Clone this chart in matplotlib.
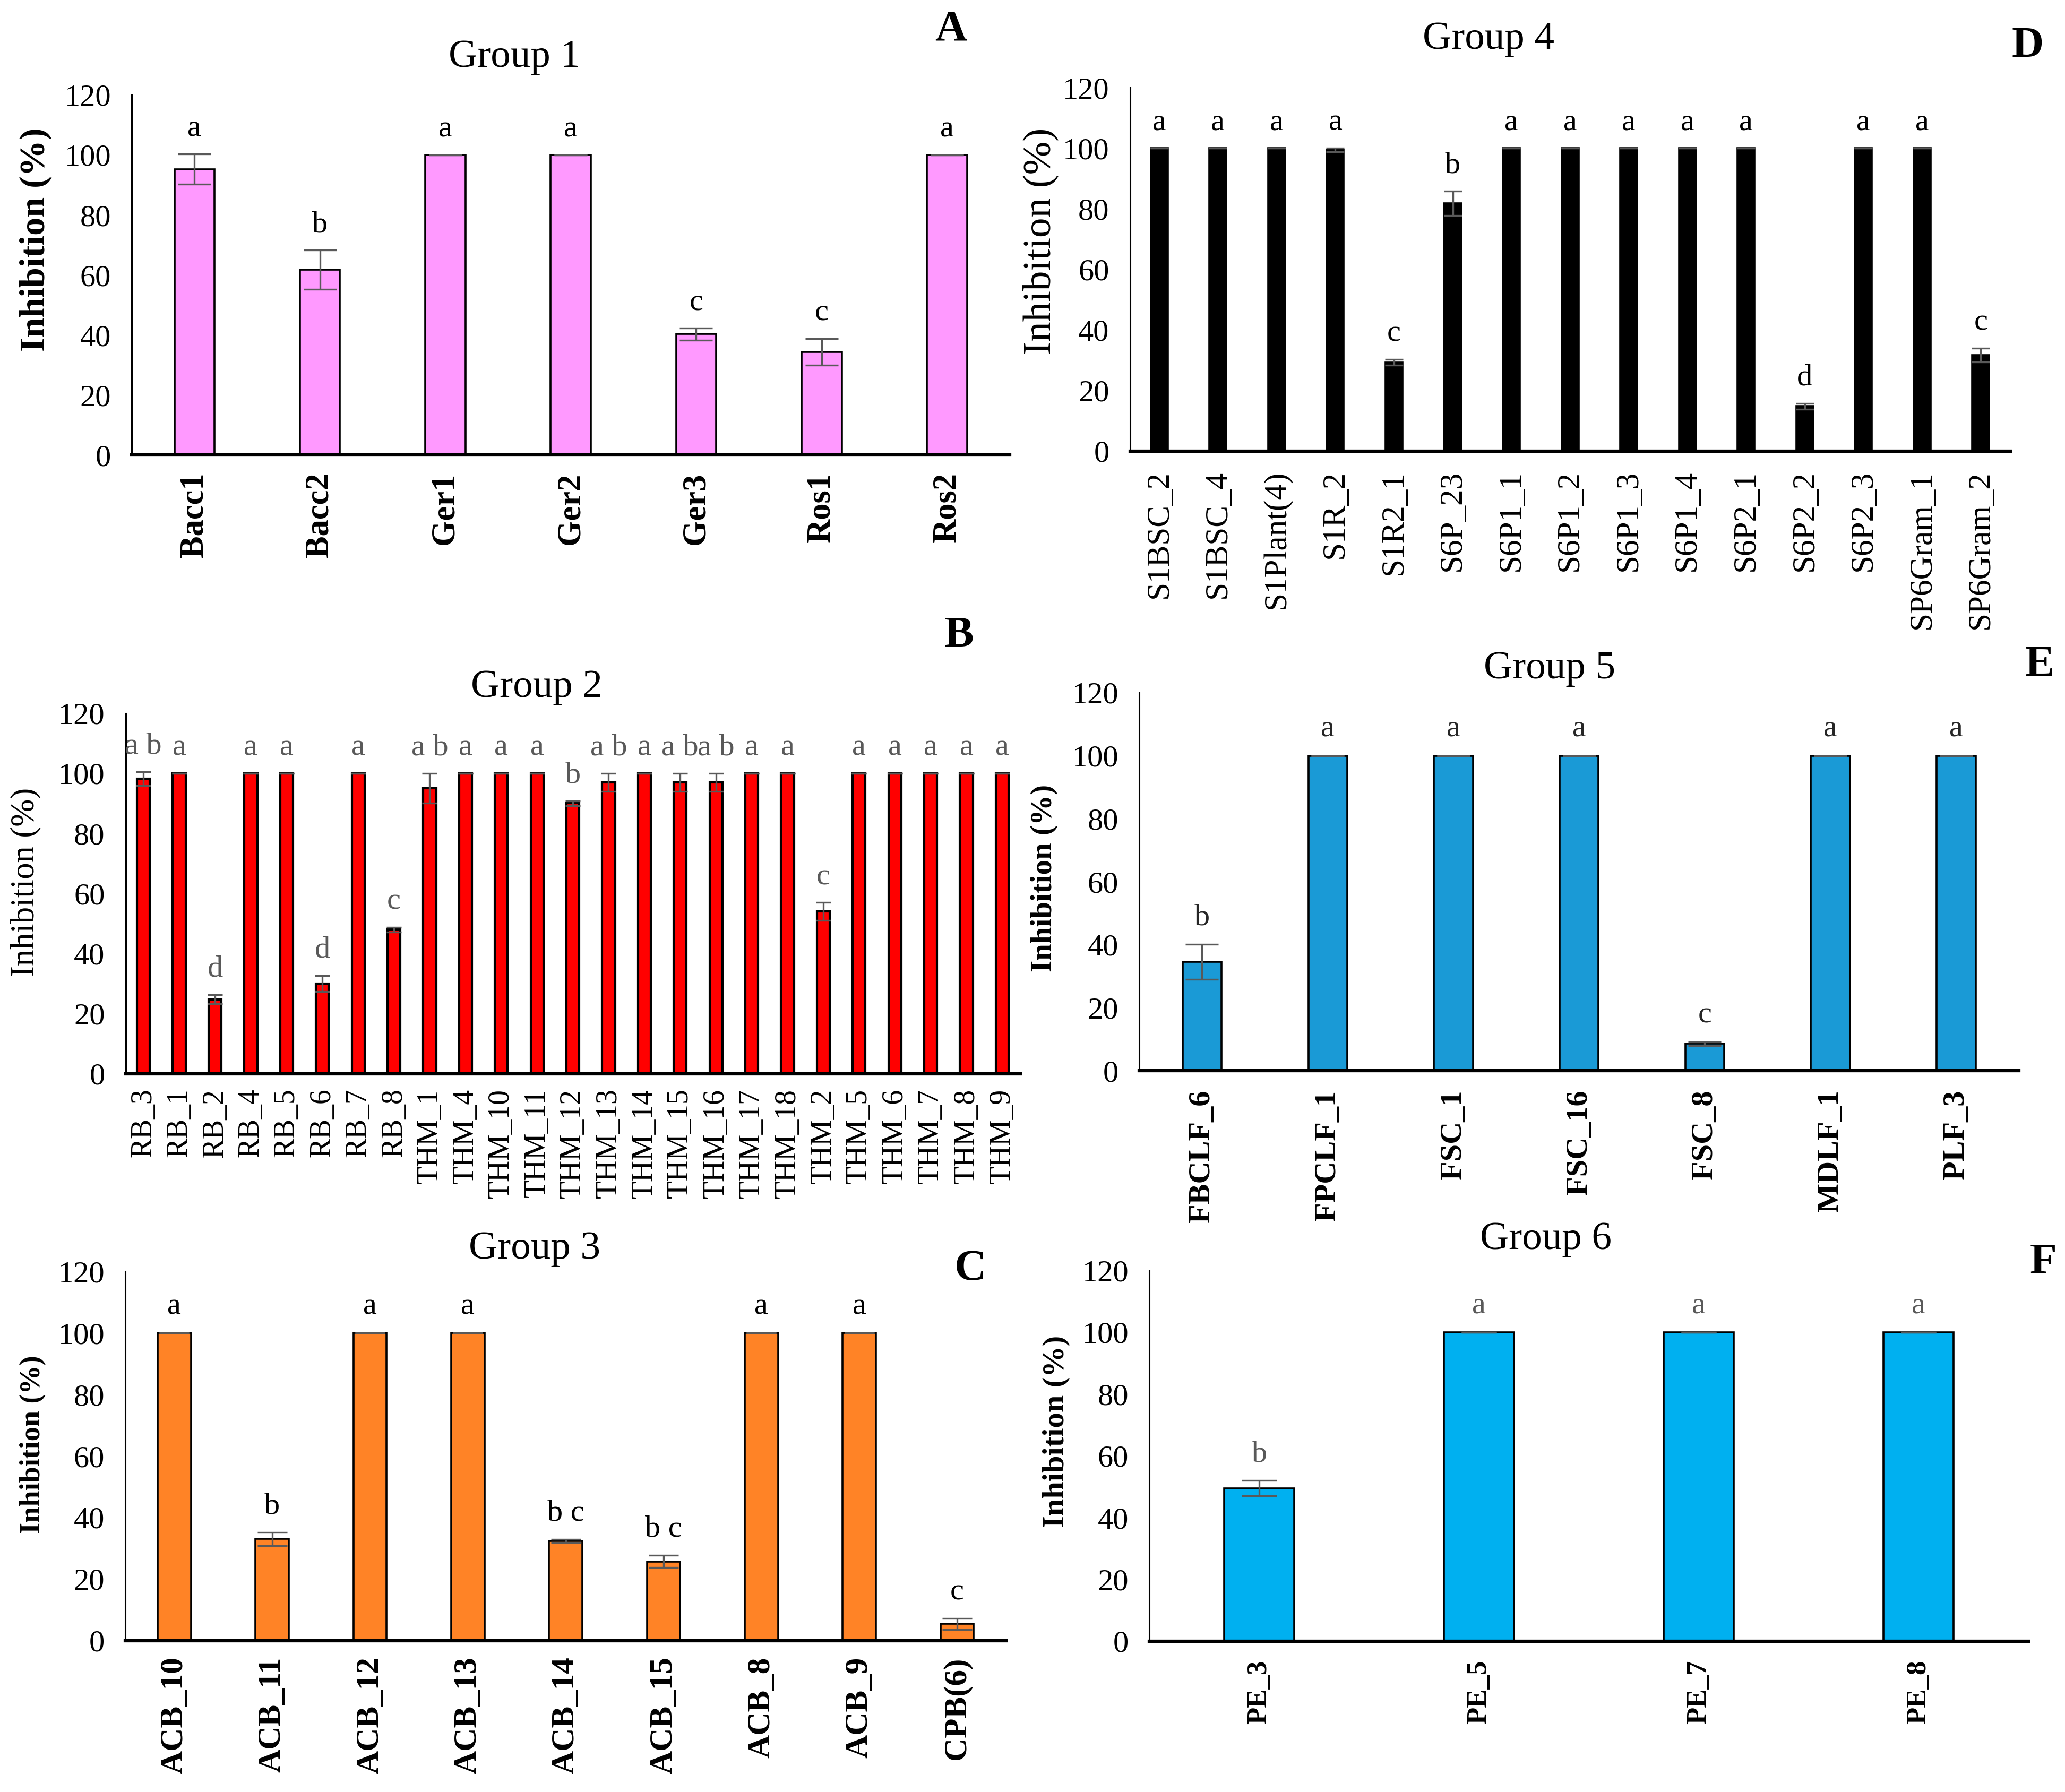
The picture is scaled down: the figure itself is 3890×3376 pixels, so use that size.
import matplotlib.pyplot as plt
import numpy as np

plt.rcParams['font.family'] = ['Liberation Serif', 'DejaVu Serif']

# Group 1
g1_names = ['Bacc1', 'Bacc2', 'Ger1', 'Ger2', 'Ger3', 'Ros1', 'Ros2']
g1_vals = [95.3, 61.8, 100, 100, 40.3, 34.4, 100]
g1_err = [5.0, 6.5, 0, 0, 2.0, 4.4, 0]
g1_let = ['a', 'b', 'a', 'a', 'c', 'c', 'a']

# Group 2
g2_names = ['RB_3', 'RB_1', 'RB_2', 'RB_4', 'RB_5', 'RB_6', 'RB_7', 'RB_8',
            'THM_1', 'THM_4', 'THM_10', 'THM_11', 'THM_12', 'THM_13', 'THM_14',
            'THM_15', 'THM_16', 'THM_17', 'THM_18', 'THM_2', 'THM_5', 'THM_6',
            'THM_7', 'THM_8', 'THM_9']
g2_vals = [98.2, 100, 24.8, 100, 100, 30.0, 100, 48.0,
           95.0, 100, 100, 100, 90.0, 97.0, 100,
           97.0, 97.0, 100, 100, 54.0, 100, 100,
           100, 100, 100]
g2_err = [2.3, 0, 1.5, 0, 0, 2.7, 0, 0.8,
          5.0, 0, 0, 0, 0.8, 3.0, 0,
          3.0, 3.0, 0, 0, 3.0, 0, 0,
          0, 0, 0]
g2_let = ['a b', 'a', 'd', 'a', 'a', 'd', 'a', 'c',
          'a b', 'a', 'a', 'a', 'b', 'a b', 'a',
          'a b', 'a b', 'a', 'a', 'c', 'a', 'a',
          'a', 'a', 'a']

# Group 3
g3_names = ['ACB_10', 'ACB_11', 'ACB_12', 'ACB_13', 'ACB_14', 'ACB_15',
            'ACB_8', 'ACB_9', 'CPB(6)']
g3_vals = [100, 33.0, 100, 100, 32.4, 25.7, 100, 100, 5.4]
g3_err = [0, 2.2, 0, 0, 0.5, 2.0, 0, 0, 1.8]
g3_let = ['a', 'b', 'a', 'a', 'b c', 'b c', 'a', 'a', 'c']

# Group 4
g4_names = ['S1BSC_2', 'S1BSC_4', 'S1Plant(4)', 'S1R_2', 'S1R2_1', 'S6P_23',
            'S6P1_1', 'S6P1_2', 'S6P1_3', 'S6P1_4', 'S6P2_1', 'S6P2_2',
            'S6P2_3', 'SP6Gram_1', 'SP6Gram_2']
g4_vals = [100, 100, 100, 99.5, 29.3, 81.8, 100, 100, 100, 100, 100, 14.8,
           100, 100, 31.7]
g4_err = [0, 0, 0, 0.6, 1.0, 4.0, 0, 0, 0, 0, 0, 1.0, 0, 0, 2.3]
g4_let = ['a', 'a', 'a', 'a', 'c', 'b', 'a', 'a', 'a', 'a', 'a', 'd',
          'a', 'a', 'c']

# Group 5
g5_names = ['FBCLF_6', 'FPCLF_1', 'FSC_1', 'FSC_16', 'FSC_8', 'MDLF_1', 'PLF_3']
g5_vals = [34.6, 100, 100, 100, 8.6, 100, 100]
g5_err = [5.6, 0, 0, 0, 0.6, 0, 0]
g5_let = ['b', 'a', 'a', 'a', 'c', 'a', 'a']

# Group 6
g6_names = ['PE_3', 'PE_5', 'PE_7', 'PE_8']
g6_vals = [49.5, 100, 100, 100]
g6_err = [2.5, 0, 0, 0]
g6_let = ['b', 'a', 'a', 'a']

fig = plt.figure(figsize=(38.9, 33.76), dpi=100)


def panel(rect, names, vals, errs, lets, color, title, tag, title_xy, tag_xy,
          ylab_xy, let_color='black', width=0.32, tick_size=42, tick_pad=20,
          ylab_size=44, bold=True, capsize=20, edge_lw=2.6):
    ax = fig.add_axes(rect)
    x = np.arange(len(names))
    ax.bar(x, vals, width=width, color=color, edgecolor='black',
           linewidth=edge_lw, zorder=2)
    ax.errorbar(x, vals, yerr=errs, fmt='none', ecolor='#595959',
                elinewidth=2.4, capsize=capsize, capthick=2.4, zorder=3)
    for xi, v, e, t in zip(x, vals, errs, lets):
        ax.text(xi, v + e + 8.5, t, ha='center', va='center', fontsize=42,
                color=let_color)
    ax.set_xlim(-0.5, len(names) - 0.5)
    ax.set_ylim(0, 120)
    ax.set_yticks(np.arange(0, 121, 20))
    ax.set_xticks(x)
    ax.set_xticklabels(names, rotation=90,
                       fontweight='bold' if bold else 'normal')
    ax.tick_params(axis='x', length=0, pad=tick_pad, labelsize=tick_size)
    ax.tick_params(axis='y', length=0, pad=28, labelsize=42)
    for s in ['top', 'right']:
        ax.spines[s].set_visible(False)
    ax.spines['left'].set_linewidth(2.2)
    ax.spines['bottom'].set_linewidth(4.5)
    ax.spines['bottom'].set_zorder(4)
    ax.set_ylabel('Inhibition (%)', fontsize=ylab_size,
                  fontweight='bold' if bold else 'normal',
                  va='center')
    ax.yaxis.set_label_coords(ylab_xy[0], ylab_xy[1],
                              transform=fig.transFigure)
    fig.text(title_xy[0], title_xy[1], title, ha='center', va='center',
             fontsize=54)
    fig.text(tag_xy[0], tag_xy[1], tag, ha='center', va='center',
             fontsize=60, fontweight='bold')
    return ax


panel([0.0638, 0.7461, 0.4252, 0.2009], g1_names, g1_vals, g1_err, g1_let,
      '#FF99FF', 'Group 1', 'A', (0.249, 0.968), (0.4604, 0.9834),
      (0.0172, 0.8663), width=0.32, tick_size=45, tick_pad=24,
      ylab_size=49, capsize=22)

panel([0.5472, 0.7483, 0.4262, 0.2027], g4_names, g4_vals, g4_err, g4_let,
      'black', 'Group 4', 'D', (0.7207, 0.978), (0.982, 0.974),
      (0.5040, 0.8655), width=0.29, tick_size=44, tick_pad=26,
      ylab_size=54, bold=False, capsize=12)

panel([0.0608, 0.4008, 0.4332, 0.2012], g2_names, g2_vals, g2_err, g2_let,
      '#FF0000', 'Group 2', 'B', (0.260, 0.6164), (0.4643, 0.645),
      (0.0128, 0.5077), let_color='#595959', width=0.36, tick_size=40,
      tick_pad=20, ylab_size=45, bold=False, capsize=10, edge_lw=3.0)

panel([0.5517, 0.4024, 0.4260, 0.2111], g5_names, g5_vals, g5_err, g5_let,
      '#1A9AD6', 'Group 5', 'E', (0.7504, 0.6266), (0.9877, 0.6288),
      (0.5057, 0.5100), let_color='#262626', width=0.31, tick_size=42,
      tick_pad=26, ylab_size=41, capsize=22)

panel([0.0607, 0.0845, 0.4265, 0.2060], g3_names, g3_vals, g3_err, g3_let,
      '#FF8326', 'Group 3', 'C', (0.2589, 0.3029), (0.470, 0.2915),
      (0.0160, 0.1940), width=0.34, tick_size=44, tick_pad=22,
      ylab_size=39, capsize=20)

panel([0.5566, 0.0842, 0.4256, 0.2068], g6_names, g6_vals, g6_err, g6_let,
      '#00B0F0', 'Group 6', 'F', (0.7487, 0.3084), (0.9894, 0.2953),
      (0.5115, 0.2013), let_color='#595959', width=0.32, tick_size=38,
      tick_pad=26, ylab_size=42, capsize=24)

fig.savefig('out.png', dpi=100)
